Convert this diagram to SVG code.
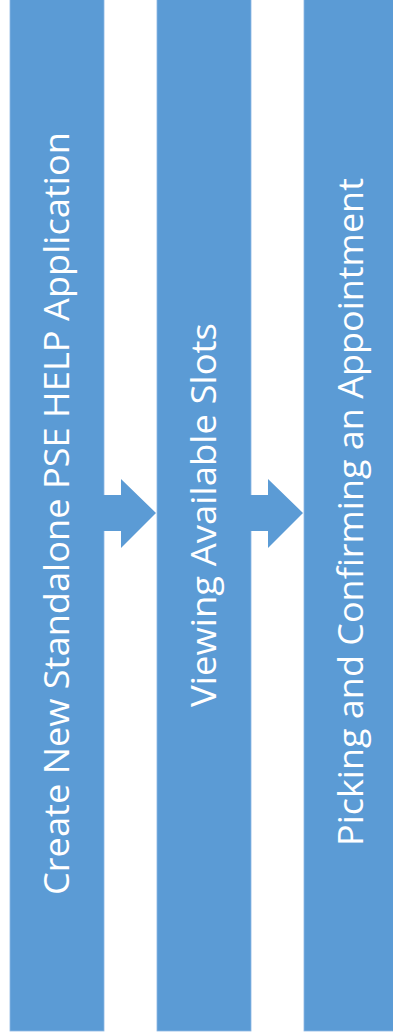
<svg xmlns="http://www.w3.org/2000/svg" width="393" height="1035" viewBox="0 0 393 1035">
<style>
.bar{fill:#5B9BD5;stroke:#8DB7E3;stroke-width:0.8}
.arr{fill:#5B9BD5}
.lbl{font-family:"Open Sans","Liberation Sans",sans-serif;font-size:34px;fill:#FFFFFF}
</style>
<rect width="393" height="1035" fill="#FFFFFF"/>
<g id="node1">
<rect class="bar" x="10" y="-2" width="94" height="1033"/>
<text class="lbl" transform="translate(69,895) rotate(-90)" textLength="763" lengthAdjust="spacingAndGlyphs">Create New Standalone PSE HELP Application</text>
</g>
<g id="node2">
<rect class="bar" x="157" y="-2" width="94" height="1033"/>
<text class="lbl" transform="translate(216,707) rotate(-90)" textLength="384" lengthAdjust="spacingAndGlyphs">Viewing Available Slots</text>
</g>
<g id="node3">
<rect class="bar" x="304" y="-2" width="94" height="1033"/>
<text class="lbl" transform="translate(363,846) rotate(-90)" textLength="668" lengthAdjust="spacingAndGlyphs">Picking and Confirming an Appointment</text>
</g>
<g id="connectors">
<polygon class="arr" points="103,495 121,495 121,479 156,513 121,548 121,531 103,531"/>
<polygon class="arr" points="250,495 268,495 268,479 303,513 268,548 268,531 250,531"/>
</g>
</svg>
